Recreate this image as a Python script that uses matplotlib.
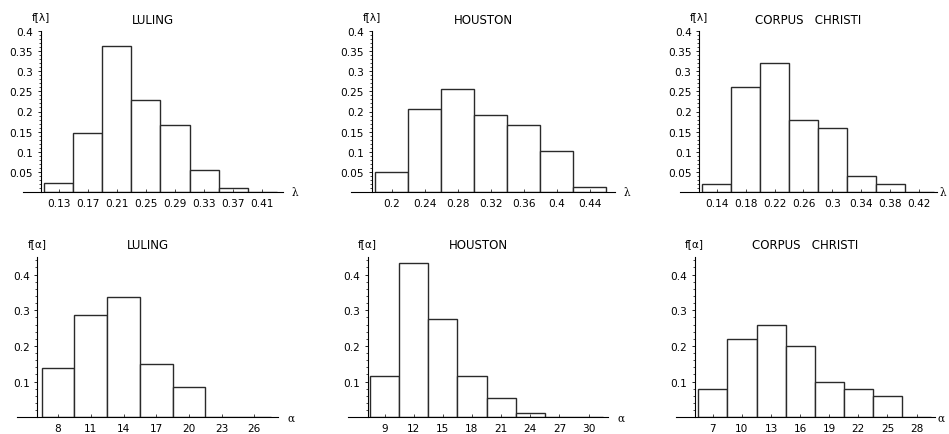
import numpy as np
import matplotlib.pyplot as plt
import matplotlib.transforms as mtransforms
from matplotlib.ticker import MultipleLocator

# --- data (relative frequencies) ---
lam_luling_x = [0.13, 0.17, 0.21, 0.25, 0.29, 0.33, 0.37, 0.41]
lam_luling_lbl = ["0.13", "0.17", "0.21", "0.25", "0.29", "0.33", "0.37", "0.41"]
lam_luling_f = [0.022, 0.146, 0.363, 0.229, 0.166, 0.054, 0.010, 0.0]

lam_houston_x = [0.20, 0.24, 0.28, 0.32, 0.36, 0.40, 0.44]
lam_houston_lbl = ["0.2", "0.24", "0.28", "0.32", "0.36", "0.4", "0.44"]
lam_houston_f = [0.050, 0.206, 0.256, 0.192, 0.166, 0.102, 0.013]

lam_corpus_x = [0.14, 0.18, 0.22, 0.26, 0.30, 0.34, 0.38, 0.42]
lam_corpus_lbl = ["0.14", "0.18", "0.22", "0.26", "0.3", "0.34", "0.38", "0.42"]
lam_corpus_f = [0.02, 0.26, 0.32, 0.18, 0.16, 0.04, 0.02, 0.0]

alp_luling_x = [8, 11, 14, 17, 20, 23, 26]
alp_luling_f = [0.137, 0.286, 0.338, 0.149, 0.084, 0.0, 0.0]

alp_houston_x = [9, 12, 15, 18, 21, 24, 27, 30]
alp_houston_f = [0.117, 0.432, 0.275, 0.117, 0.053, 0.013, 0.0, 0.0]

alp_corpus_x = [7, 10, 13, 16, 19, 22, 25, 28]
alp_corpus_f = [0.08, 0.22, 0.26, 0.20, 0.10, 0.08, 0.06, 0.0]

W, H = 949, 435
FS = 7.6


def draw_panel(fig, box, x, f, labels, width, xlim, x0, ytop, ystep, yminor,
               title, var, title_y, flab_y, var_off=9):
    # box = (left px, right px, baseline px, top px)
    left, right, ybase, ytp = box
    ax = fig.add_axes([left / W, 1 - ybase / H, (right - left) / W, (ybase - ytp) / H])
    ax.bar(x, f, width=width, color="white", edgecolor="#2a2a2a", linewidth=1.0)
    ax.set_xlim(*xlim)
    ax.set_ylim(0, ytop)
    ax.patch.set_alpha(0)
    for s in ("top", "right"):
        ax.spines[s].set_visible(False)
    ax.spines["left"].set_position(("data", x0))
    ax.spines["left"].set_linewidth(0.8)
    ax.spines["bottom"].set_linewidth(0.8)
    ax.set_xticks(x)
    ax.set_xticklabels(labels if labels else [str(v) for v in x], fontsize=FS)
    yt = np.round(np.arange(ystep, ytop + 1e-9, ystep), 3)
    ax.set_yticks(yt)
    ax.set_yticklabels([("%g" % v) for v in yt], fontsize=FS)
    ax.yaxis.set_minor_locator(MultipleLocator(yminor))
    ax.tick_params(axis="x", direction="in", length=2, width=0.5, pad=4)
    ax.tick_params(axis="y", which="major", direction="out", length=2.5, width=0.6, pad=3)
    ax.tick_params(axis="y", which="minor", direction="out", length=1.2, width=0.5)

    trans = mtransforms.blended_transform_factory(ax.transData, fig.transFigure)
    ax.text(x0, 1 - flab_y / H, "f[" + var + "]", transform=trans,
            ha="center", va="center", fontsize=FS)
    fig.text((left + right) / 2 / W, 1 - title_y / H, title,
             ha="center", va="center", fontsize=8.5)
    ax.annotate(var, xy=(xlim[1], 0), xytext=(var_off, 0), textcoords="offset pixels",
                ha="left", va="center", fontsize=FS, family="serif",
                annotation_clip=False)
    return ax


fig = plt.figure(figsize=(W / 100, H / 100), dpi=100)

# top row: lambda
draw_panel(fig, (23, 283, 193, 32), lam_luling_x, lam_luling_f, lam_luling_lbl, 0.04,
           (0.0811, 0.4385), 0.1055, 0.4, 0.05, 0.01, "LULING", "λ", 20.7, 17)
draw_panel(fig, (351, 615, 193, 32), lam_houston_x, lam_houston_f, lam_houston_lbl, 0.04,
           (0.1505, 0.4705), 0.1756, 0.4, 0.05, 0.01, "HOUSTON", "λ", 20.7, 17)
draw_panel(fig, (680, 937, 193, 32), lam_corpus_x, lam_corpus_f, lam_corpus_lbl, 0.04,
           (0.0893, 0.4446), 0.1159, 0.4, 0.05, 0.01, "CORPUS   CHRISTI", "λ", 20.7, 17,
           var_off=3)

# bottom row: alpha
draw_panel(fig, (17, 278, 418.3, 257.7), alp_luling_x, alp_luling_f, None, 3,
           (4.23, 28.17), 6.1, 0.45, 0.1, 0.02, "LULING", "α", 246, 244)
draw_panel(fig, (348, 608, 418.3, 257.7), alp_houston_x, alp_houston_f, None, 3,
           (5.24, 32.0), 7.25, 0.45, 0.1, 0.02, "HOUSTON", "α", 246, 244)
draw_panel(fig, (676, 935, 418.3, 257.7), alp_corpus_x, alp_corpus_f, None, 3,
           (3.2, 29.9), 5.13, 0.45, 0.1, 0.02, "CORPUS   CHRISTI", "α", 246, 244,
           var_off=3)

fig.savefig("out.png", dpi=100)
